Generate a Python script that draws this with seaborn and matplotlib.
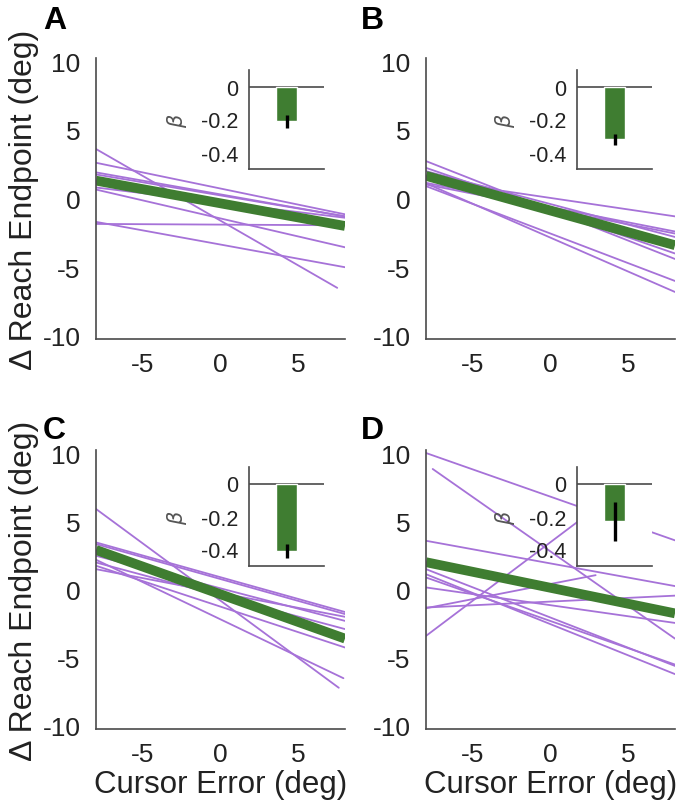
import numpy as np
import pandas as pd
import matplotlib
matplotlib.use("Agg")
import matplotlib.pyplot as plt
import seaborn as sns

# ---------------- data ----------------
panels = ["A", "B", "C", "D"]

# individual subject fit lines: start/end x and y
A_x0 = [-8, -8, -8, -8, -8, -8, -8, -8]
A_x1 = [7.5, 8, 8, 8, 8, 8, 8, 8]
A_y0 = [3.6, 2.6, 1.9, 1.75, 0.8, 0.65, -1.7, -1.85]
A_y1 = [-6.5, -1.15, -1.3, -1.3, -1.4, -3.55, -5.0, -1.95]

B_x0 = [-8, -8, -8, -8, -8, -8, -8, -8]
B_x1 = [8, 8, 8, 8, 8, 8, 8, 8]
B_y0 = [2.72, 2.23, 1.99, 1.38, 1.14, 1.02, 0.9, 1.1]
B_y1 = [-4.4, -4.0, -2.8, -1.3, -2.4, -2.55, -6.0, -6.8]

C_x0 = [-8, -8, -8, -8, -8, -8, -8, -8]
C_x1 = [7.6, 8, 8, 8, 7.9, 8, 8, 8]
C_y0 = [5.9, 3.45, 3.33, 2.47, 2.18, 1.98, 1.74, 1.49]
C_y1 = [-7.2, -1.65, -1.8, -2.3, -6.5, -2.9, -4.25, -2.0]

D_x0 = [-8, -7.57, -8, -8, -8, -8, -8, -8, -8, -8]
D_x1 = [8, 8, 8, 8, 8, 8, 8, 8, 2.9, 4.0]
D_y0 = [10.0, 8.83, 3.57, 1.49, 1.12, 0.88, 0.15, -1.32, -1.37, -3.4]
D_y1 = [3.6, -3.6, 0.25, -5.6, -6.2, -5.5, -2.45, -0.45, 1.05, 6.9]

# group mean fit line (thick green)
mean_x = [-8, 8]
mean_y0 = [1.3, 1.65, 2.9, 2.0]
mean_y1 = [-2.0, -3.4, -3.6, -1.75]

# inset: mean slope beta and error bar half-widths
beta = [-0.21, -0.32, -0.41, -0.23]
beta_err = [0.04, 0.035, 0.043, 0.12]

x_ticks = [-5, 0, 5]
y_ticks = [-10, -5, 0, 5, 10]
inset_ticks = [0, -0.2, -0.4]
inset_ticklabels = ["0", "-0.2", "-0.4"]
xlabel = "Cursor Error (deg)"
ylabel = "\u0394 Reach Endpoint (deg)"

lines = {
    "A": (A_x0, A_x1, A_y0, A_y1),
    "B": (B_x0, B_x1, B_y0, B_y1),
    "C": (C_x0, C_x1, C_y0, C_y1),
    "D": (D_x0, D_x1, D_y0, D_y1),
}

# ---------------- style ----------------
sns.set_style("white")
plt.rcParams["font.family"] = ["Liberation Sans", "DejaVu Sans"]
plt.rcParams["axes.unicode_minus"] = False

PURPLE = "#A672D8"
GREEN = "#3F7D31"
SPINE = "#4a4a4a"
TEXT = "#222222"

W, H = 677, 812
fig = plt.figure(figsize=(W / 100, H / 100), dpi=100)

def frac(x0, y0, x1, y1):
    return [x0 / W, 1 - y1 / H, (x1 - x0) / W, (y1 - y0) / H]

main_boxes = {
    "A": frac(96, 58.6, 345, 340.4),
    "B": frac(426, 58.6, 675, 340.4),
    "C": frac(96, 450.6, 345, 730.4),
    "D": frac(426, 450.6, 675, 730.4),
}
inset_boxes = {
    "A": frac(249, 71, 324, 170),
    "B": frac(577, 71, 652, 170),
    "C": frac(249, 468, 324, 567),
    "D": frac(577, 468, 652, 567),
}
letter_pos = {"A": (43, 6), "B": (361, 6), "C": (43, 416), "D": (361, 416)}

for i, p in enumerate(panels):
    ax = fig.add_axes(main_boxes[p])
    x0, x1, y0, y1 = lines[p]
    rows = []
    for k in range(len(x0)):
        rows.append({"subj": k, "x": x0[k], "y": y0[k]})
        rows.append({"subj": k, "x": x1[k], "y": y1[k]})
    df = pd.DataFrame(rows)
    sns.lineplot(data=df, x="x", y="y", units="subj", estimator=None,
                 color=PURPLE, lw=1.3, ax=ax, legend=False)
    dfm = pd.DataFrame({"x": mean_x, "y": [mean_y0[i], mean_y1[i]]})
    sns.lineplot(data=dfm, x="x", y="y", color=GREEN, lw=7, ax=ax,
                 solid_capstyle="butt")

    ax.set_xlim(-8, 8)
    ax.set_ylim(-10.25, 10.25)
    ax.set_xticks(x_ticks)
    ax.set_yticks(y_ticks)
    ax.set_xticklabels([str(t) for t in x_ticks])
    ax.set_yticklabels([str(t) for t in y_ticks])
    for s in ["top", "right"]:
        ax.spines[s].set_visible(False)
    for s in ["left", "bottom"]:
        ax.spines[s].set_color(SPINE)
        ax.spines[s].set_linewidth(1.2)
    ax.tick_params(direction="in", length=4, width=1, color=SPINE,
                   labelsize=19, labelcolor=TEXT)
    ax.tick_params(axis="y", pad=11)
    ax.tick_params(axis="x", pad=9)
    if p in ("C", "D"):
        ax.set_xlabel(xlabel, fontsize=22.5, labelpad=2, color=TEXT)
    else:
        ax.set_xlabel("")
    if p in ("A", "C"):
        ax.set_ylabel(ylabel, fontsize=23, labelpad=3, color=TEXT)
    else:
        ax.set_ylabel("")

    # inset bar
    ins = fig.add_axes(inset_boxes[p])
    ins.set_facecolor("white")
    dfb = pd.DataFrame({"cond": ["m"], "beta": [beta[i]]})
    sns.barplot(data=dfb, x="cond", y="beta", color=GREEN, saturation=1,
                width=0.8, errorbar=None, ax=ins, zorder=2)
    ins.errorbar([0], [beta[i]], yerr=[beta_err[i]], fmt="none",
                 ecolor="black", elinewidth=2.4, capsize=0, zorder=3)
    ins.axhline(0, color=SPINE, lw=1.2, zorder=1)
    ins.set_xlim(-1.45, 1.45)
    ins.set_ylim(-0.5, 0.1)
    ins.set_xticks([])
    ins.set_yticks(inset_ticks)
    ins.set_yticklabels(inset_ticklabels)
    ins.tick_params(axis="y", length=0, labelsize=15.5, pad=8,
                    labelcolor=TEXT)
    for s in ["top", "right"]:
        ins.spines[s].set_visible(False)
    for s in ["left", "bottom"]:
        ins.spines[s].set_color(SPINE)
        ins.spines[s].set_linewidth(1.2)
    ins.set_xlabel("")
    ins.set_ylabel(r"$\beta$", fontsize=15, labelpad=8, color="#555555")

    lx, ly = letter_pos[p]
    fig.text(lx / W, 1 - ly / H, p, fontsize=23, fontweight="bold",
             va="top", ha="left", color="black")

fig.savefig("out.png", dpi=100)
